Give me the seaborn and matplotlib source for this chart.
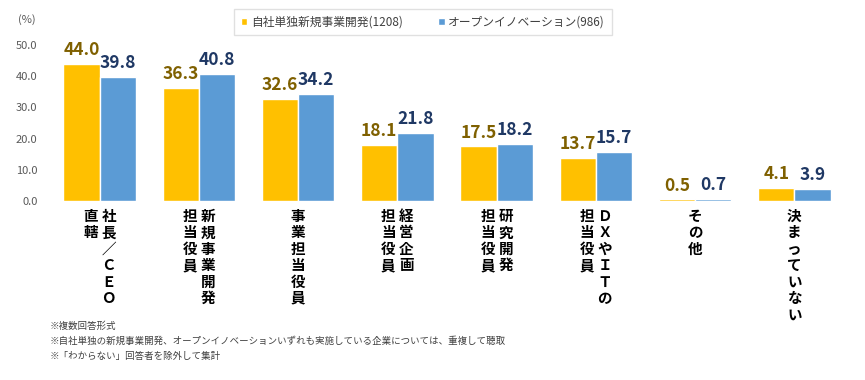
import pandas as pd
import matplotlib
matplotlib.use("Agg")
import matplotlib.pyplot as plt
import seaborn as sns

# data
categories = ["社長／CEO直轄", "新規事業開発担当役員", "事業担当役員", "経営企画担当役員",
              "研究開発担当役員", "DXやITの担当役員", "その他", "決まっていない"]
# vertical label columns, right column first (Japanese vertical writing)
label_columns = [["社長／ＣＥＯ", "直轄"], ["新規事業開発", "担当役員"], ["事業担当役員"],
                 ["経営企画", "担当役員"], ["研究開発", "担当役員"], ["ＤＸやＩＴの", "担当役員"],
                 ["その他"], ["決まっていない"]]
series_names = ["自社単独新規事業開発(1208)", "オープンイノベーション(986)"]
own_values = [44.0, 36.3, 32.6, 18.1, 17.5, 13.7, 0.5, 4.1]
open_values = [39.8, 40.8, 34.2, 21.8, 18.2, 15.7, 0.7, 3.9]
y_ticks = [0, 10, 20, 30, 40, 50]
notes = ["※複数回答形式",
         "※自社単独の新規事業開発、オープンイノベーションいずれも実施している企業については、重複して聴取",
         "※「わからない」回答者を除外して集計"]

df = pd.DataFrame({
    "category": categories * 2,
    "series": [series_names[0]] * len(categories) + [series_names[1]] * len(categories),
    "value": own_values + open_values,
})

sns.set_style("white")
plt.rcParams["font.family"] = ["Noto Sans CJK JP", "DejaVu Sans"]

bar_colors = ["#FFC000", "#5B9BD5"]
label_colors = ["#7F6000", "#1F3864"]

fig = plt.figure(figsize=(8.65, 3.8), dpi=100)
ax = fig.add_axes([50 / 865, 179 / 380, 794 / 865, 156 / 380])

sns.barplot(data=df, x="category", y="value", hue="series", palette=bar_colors,
            width=0.73, gap=0, saturation=1, ax=ax)

for cont, col in zip(ax.containers, label_colors):
    ax.bar_label(cont, fmt="%.1f", padding=3.5, color=col, fontsize=12.5,
                 fontweight="bold", clip_on=False)

ax.set_ylim(0, 50)
ax.set_xlim(-0.5, len(categories) - 0.5)
ax.set_yticks(y_ticks)
ax.set_yticklabels([f"{v:.1f}" for v in y_ticks], fontsize=8, color="#595959")
ax.tick_params(axis="y", length=0, pad=9)
ax.set_xticks([])
ax.set_xlabel("")
ax.set_ylabel("")
sns.despine(ax=ax, left=True, bottom=True)

# vertical category labels
for i, cols in enumerate(label_columns):
    n = len(cols)
    offsets = [0] if n == 1 else [6.5, -6.5]
    for txt, dx in zip(cols, offsets):
        ax.annotate("\n".join(txt), xy=(i, 0), xytext=(dx, -5),
                    textcoords="offset points", ha="center", va="top",
                    fontsize=10.5, fontweight="bold", linespacing=1.03,
                    color="#000000", annotation_clip=False)

fig.text(18 / 865, 1 - 20 / 380, "(%)", fontsize=8, color="#595959", va="center")

leg = ax.legend(loc="center", bbox_to_anchor=(423 / 865, 1 - 22 / 380),
                bbox_transform=fig.transFigure, ncol=2, frameon=True,
                fancybox=False, edgecolor="#D9D9D9", fontsize=8.5,
                handlelength=0.55, handleheight=0.55, handletextpad=0.3,
                columnspacing=3.0, borderpad=0.55)
for t in leg.get_texts():
    t.set_color("#404040")

for k, note in enumerate(notes):
    fig.text(50 / 865, 1 - (326 + 15 * k) / 380, note, fontsize=6.8,
             color="#404040", va="center")

fig.savefig("out.png", dpi=100)
